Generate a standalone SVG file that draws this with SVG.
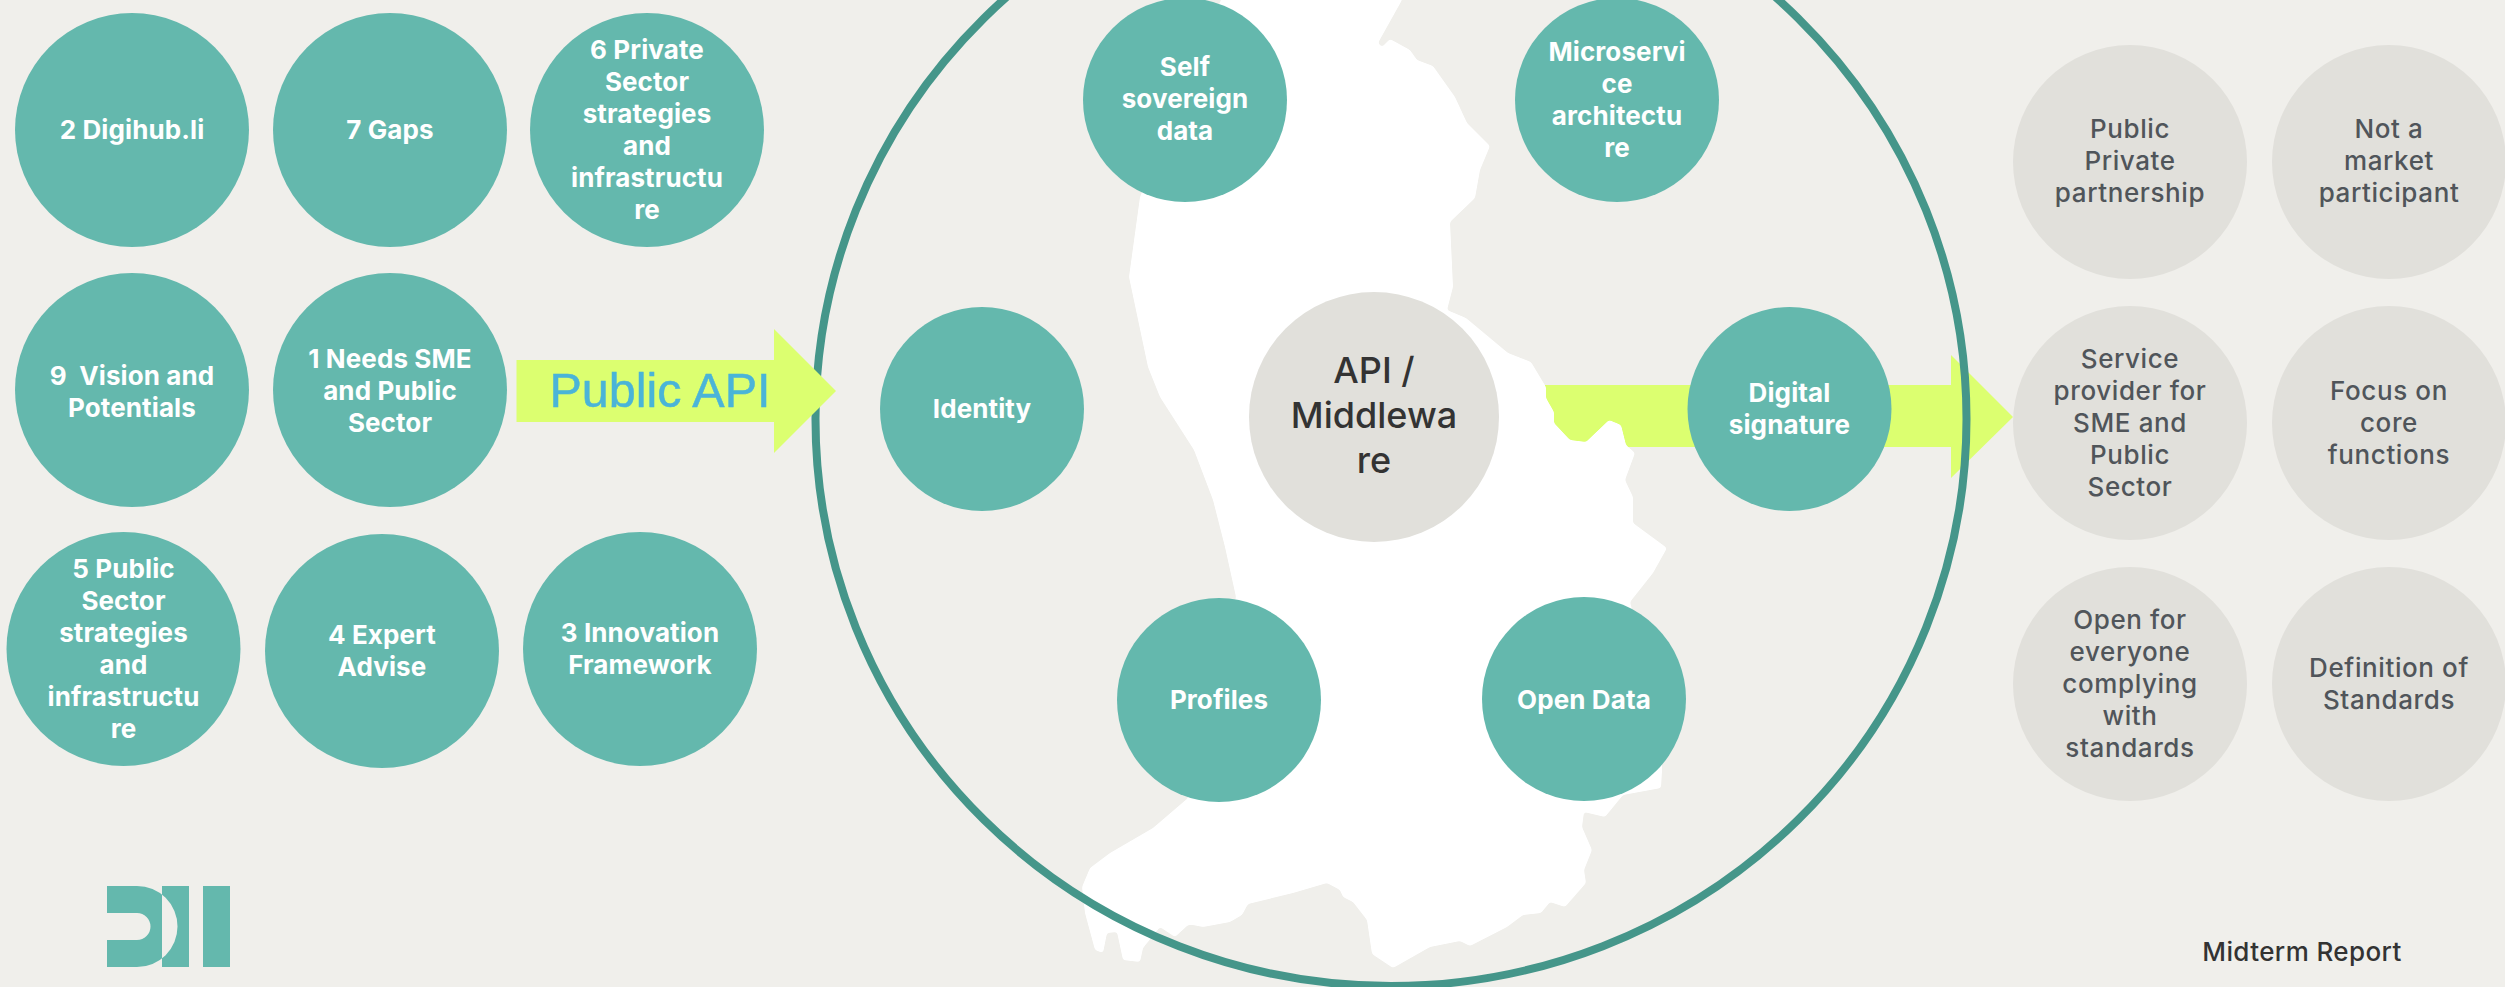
<svg xmlns="http://www.w3.org/2000/svg" width="2505" height="987" viewBox="0 0 2505 987">
<style>
.t{fill:#64b8ad}.g{fill:#e1e0db}
text{font-family:Inter,"Liberation Sans",sans-serif;text-anchor:middle}
.w{fill:#fff;font-size:26px;font-weight:700;letter-spacing:.1px}
.d{fill:#50555a;font-size:26px;font-weight:500;letter-spacing:.6px}
.lime{fill:#dcff70}
</style>
<defs>
<filter id="soft" x="-5%" y="-5%" width="110%" height="110%" color-interpolation-filters="sRGB">
<feGaussianBlur stdDeviation="1.6" result="b"/>
<feComponentTransfer><feFuncA type="linear" slope="5" intercept="-2"/></feComponentTransfer>
</filter>
</defs>
<rect width="2505" height="987" fill="#f0efeb"/>
<g id="connectors">
<path id="arrow-out" class="lime" d="M1500 385H1951V355L2013 417L1951 478V447H1500Z"/>
</g>
<path id="map" fill="#fff" filter="url(#soft)" d="M1402 -10L1402 0L1378 43L1382 47L1390 39L1410 50L1417 60L1433 66L1455 97L1467 123L1490 146L1480 170L1475 198L1450 222L1453 287L1447 310L1466 318L1508 353L1531 362L1546 387L1546 398L1554 412L1554 423L1570 440L1586 442L1609 420L1621 425L1626 445L1635 453L1625 480L1633 497L1633 523L1667 548L1653 573L1630 602L1662 720L1662 770L1661 788L1623 795L1605 817L1584 812L1582 827L1592 850L1584 870L1586 883L1565 907L1550 902L1541 913L1523 915L1507 927L1470 946L1460 941L1430 947L1393 968L1372 954L1367 920L1353 902L1343 897L1340 890L1327 883L1293 893L1248 904L1242 915L1230 922L1203 927L1193 925L1188 925L1175 937L1160 927L1143 948L1140 962L1123 960L1117 932L1107 933L1103 953L1095 950L1085 913L1082 887L1090 868L1110 853L1153 828L1188 798L1236 597L1225 547L1213 500L1194 450L1160 397L1148 367L1129 277L1140 197L1225 -10Z"/>
<ellipse id="boundary" cx="1391" cy="419" rx="575.500" ry="567" fill="none" stroke="#45968a" stroke-width="8"/>
<g id="arrow-public-api">
<path class="lime" d="M516.500 360H774V329L836 391L774 453V422H516.500Z"/>
<text x="660" y="407" fill="#4ab4d8" stroke="#4ab4d8" stroke-width=".5" style="font-family:'Liberation Sans',sans-serif;font-size:48.500px">Public API</text>
</g>
<g id="n2"><circle class="t" cx="132" cy="130" r="117"/><text class="w" x="132" y="139">2 Digihub.li</text></g>
<g id="n7"><circle class="t" cx="390" cy="130" r="117"/><text class="w" x="390" y="139">7 Gaps</text></g>
<g id="n6"><circle class="t" cx="647" cy="130" r="117"/><text class="w" x="647"><tspan x="647" y="59">6 Private</tspan><tspan x="647" y="91">Sector</tspan><tspan x="647" y="123">strategies</tspan><tspan x="647" y="155">and</tspan><tspan x="647" y="187">infrastructu</tspan><tspan x="647" y="219">re</tspan></text></g>
<g id="n9"><circle class="t" cx="132" cy="390" r="117"/><text class="w" xml:space="preserve"><tspan x="132" y="385">9  Vision and</tspan><tspan x="132" y="417">Potentials</tspan></text></g>
<g id="n1"><circle class="t" cx="390" cy="390" r="117"/><text class="w"><tspan x="390" y="368">1 Needs SME</tspan><tspan x="390" y="400">and Public</tspan><tspan x="390" y="432">Sector</tspan></text></g>
<g id="n5"><circle class="t" cx="123.500" cy="649" r="117"/><text class="w"><tspan x="123.500" y="578">5 Public</tspan><tspan x="123.500" y="610">Sector</tspan><tspan x="123.500" y="642">strategies</tspan><tspan x="123.500" y="674">and</tspan><tspan x="123.500" y="706">infrastructu</tspan><tspan x="123.500" y="738">re</tspan></text></g>
<g id="n4"><circle class="t" cx="382" cy="651" r="117"/><text class="w"><tspan x="382" y="644">4 Expert</tspan><tspan x="382" y="676">Advise</tspan></text></g>
<g id="n3"><circle class="t" cx="640" cy="649" r="117"/><text class="w"><tspan x="640" y="642">3 Innovation</tspan><tspan x="640" y="674">Framework</tspan></text></g>
<g id="self"><circle class="t" cx="1185" cy="100" r="102"/><text class="w"><tspan x="1185" y="76">Self</tspan><tspan x="1185" y="108">sovereign</tspan><tspan x="1185" y="140">data</tspan></text></g>
<g id="micro"><circle class="t" cx="1617" cy="100" r="102"/><text class="w"><tspan x="1617" y="61">Microservi</tspan><tspan x="1617" y="93">ce</tspan><tspan x="1617" y="125">architectu</tspan><tspan x="1617" y="157">re</tspan></text></g>
<g id="identity"><circle class="t" cx="982" cy="409" r="102"/><text class="w" x="982" y="418">Identity</text></g>
<g id="api"><circle class="g" cx="1374" cy="417" r="125"/><text fill="#333" style="font-size:36px;font-weight:500"><tspan x="1374" y="383">API /</tspan><tspan x="1374" y="428">Middlewa</tspan><tspan x="1374" y="473">re</tspan></text></g>
<g id="digital"><circle class="t" cx="1789.500" cy="409" r="102"/><text class="w"><tspan x="1789.500" y="402">Digital</tspan><tspan x="1789.500" y="434">signature</tspan></text></g>
<g id="profiles"><circle class="t" cx="1219" cy="700" r="102"/><text class="w" x="1219" y="709">Profiles</text></g>
<g id="opendata"><circle class="t" cx="1584" cy="699" r="102"/><text class="w" x="1584" y="709">Open Data</text></g>
<g id="r1"><circle class="g" cx="2130" cy="162" r="117"/><text class="d"><tspan x="2130" y="138">Public</tspan><tspan x="2130" y="170">Private</tspan><tspan x="2130" y="202">partnership</tspan></text></g>
<g id="r2"><circle class="g" cx="2389" cy="162" r="117"/><text class="d"><tspan x="2389" y="138">Not a</tspan><tspan x="2389" y="170">market</tspan><tspan x="2389" y="202">participant</tspan></text></g>
<g id="r3"><circle class="g" cx="2130" cy="423" r="117"/><text class="d"><tspan x="2130" y="368">Service</tspan><tspan x="2130" y="400">provider for</tspan><tspan x="2130" y="432">SME and</tspan><tspan x="2130" y="464">Public</tspan><tspan x="2130" y="496">Sector</tspan></text></g>
<g id="r4"><circle class="g" cx="2389" cy="423" r="117"/><text class="d"><tspan x="2389" y="400">Focus on</tspan><tspan x="2389" y="432">core</tspan><tspan x="2389" y="464">functions</tspan></text></g>
<g id="r5"><circle class="g" cx="2130" cy="684" r="117"/><text class="d"><tspan x="2130" y="629">Open for</tspan><tspan x="2130" y="661">everyone</tspan><tspan x="2130" y="693">complying</tspan><tspan x="2130" y="725">with</tspan><tspan x="2130" y="757">standards</tspan></text></g>
<g id="r6"><circle class="g" cx="2389" cy="684" r="117"/><text class="d"><tspan x="2389" y="677">Definition of</tspan><tspan x="2389" y="709">Standards</tspan></text></g>
<text id="midterm" x="2302" y="961" fill="#333" style="font-size:26px;font-weight:500;letter-spacing:.4px">Midterm Report</text>
<path id="logo" class="t" fill-rule="evenodd" d="M107 886H137A40.500 40.500 0 0 1 137 967H107V940H137A13.500 13.500 0 0 0 137 913H107ZM162 886H189V967H162ZM203 886H230V967H203Z"/>
</svg>
